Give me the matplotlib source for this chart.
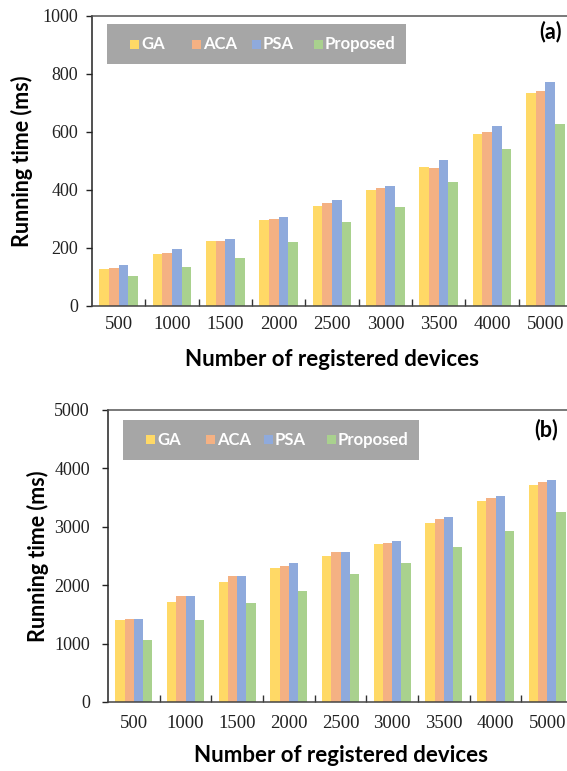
import matplotlib
matplotlib.use("Agg")
import matplotlib.pyplot as plt
from matplotlib.patches import Rectangle
import numpy as np

# ---- data ----
categories = ["500", "1000", "1500", "2000", "2500", "3000", "3500", "4000", "5000"]
series_names = ["GA", "ACA", "PSA", "Proposed"]
series_colors = ["#FFD966", "#F4B183", "#8FAADC", "#A9D18E"]

# (a) running time in ms
ga_a = [126, 180, 225, 296, 346, 400, 480, 594, 733]
aca_a = [132, 182, 225, 300, 356, 406, 476, 600, 742]
psa_a = [140, 197, 231, 307, 367, 414, 505, 619, 771]
prop_a = [104, 133, 167, 219, 289, 342, 427, 540, 629]

# (b) running time in ms
ga_b = [1400, 1710, 2060, 2290, 2500, 2700, 3060, 3450, 3715]
aca_b = [1420, 1810, 2150, 2330, 2570, 2720, 3130, 3485, 3765]
psa_b = [1420, 1810, 2150, 2385, 2570, 2755, 3170, 3520, 3800]
prop_b = [1065, 1405, 1690, 1905, 2200, 2385, 2655, 2935, 3255]

yticks_a = [0, 200, 400, 600, 800, 1000]
yticks_b = [0, 1000, 2000, 3000, 4000, 5000]

W, H = 567, 771
DPI = 100
fig = plt.figure(figsize=(W / DPI, H / DPI), dpi=DPI)

SERIF = "Liberation Serif"
SANS = "Lato"


def px_rect(left, top, right, bottom):
    return [left / W, 1 - bottom / H, (right - left) / W, (bottom - top) / H]


def panel(rect, values, yticks, tag, legend_box, legend_items, ypad, xpad):
    ax = fig.add_axes(rect)
    x = np.arange(len(categories))
    bw = 0.18
    for i, (vals, col) in enumerate(zip(values, series_colors)):
        ax.bar(x + (i - 1.5) * bw, vals, width=bw, color=col, linewidth=0)

    ax.set_xlim(-0.5, len(categories) - 0.5)
    ax.set_ylim(yticks[0], yticks[-1])
    ax.set_yticks(yticks)
    ax.set_yticklabels([str(t) for t in yticks], fontfamily=SERIF, fontsize=13)
    ax.set_xticks(x)
    ax.set_xticklabels(categories, fontfamily=SERIF, fontsize=13.5)
    ax.set_xticks(np.arange(0.5, len(categories) - 0.5, 1.0), minor=True)
    ax.tick_params(axis="x", which="major", length=0, pad=xpad, colors="#222222")
    ax.tick_params(axis="x", which="minor", direction="in", length=5,
                   width=1, color="#333333")
    ax.tick_params(axis="y", which="major", direction="out", length=4,
                   width=1, pad=ypad, colors="#222222")

    ax.spines["right"].set_visible(False)
    ax.spines["top"].set_color("#555555")
    ax.spines["left"].set_color("#222222")
    ax.spines["bottom"].set_color("#444444")
    for s in ax.spines.values():
        s.set_linewidth(1.1)

    ax.set_ylabel("Running time (ms)", fontfamily=SANS, fontweight="bold",
                  fontsize=15.5)
    ax.set_xlabel("Number of registered devices", fontfamily=SANS,
                  fontweight="bold", fontsize=16)
    ax.yaxis.set_label_coords(-70 / (rect[2] * W), 0.5)
    ax.yaxis.label.set_verticalalignment("center")
    ax.xaxis.set_label_coords(0.5, -54 / (rect[3] * H))
    ax.xaxis.label.set_verticalalignment("center")

    ax.text(tag[1], tag[2], tag[0], transform=fig.transFigure, ha="center",
            va="center", fontfamily=SANS, fontweight="bold", fontsize=15.5)

    # legend strip
    l, t, r, b = legend_box
    fig.patches.append(Rectangle((l / W, 1 - b / H), (r - l) / W, (b - t) / H,
                                 transform=fig.transFigure,
                                 facecolor="#A6A6A6", edgecolor="none"))
    yc = (t + b) / 2
    for name, col, mx in zip(series_names, series_colors, legend_items):
        fig.patches.append(Rectangle(((mx - 4.5) / W, 1 - (yc + 4.5) / H),
                                     9 / W, 9 / H, transform=fig.transFigure,
                                     facecolor=col, edgecolor="none"))
        fig.text((mx + 7) / W, 1 - yc / H, name, ha="left", va="center",
                 color="white", fontfamily=SANS, fontweight="bold",
                 fontsize=12)
    return ax


panel(px_rect(92, 16, 572, 306), [ga_a, aca_a, psa_a, prop_a], yticks_a,
      ("(a)", 551 / W, 1 - 32 / H), (107, 24, 406, 64),
      [134, 196, 256, 318], ypad=6, xpad=7)

panel(px_rect(108, 410, 573, 702), [ga_b, aca_b, psa_b, prop_b], yticks_b,
      ("(b)", 546 / W, 1 - 430 / H), (123, 420, 419, 460),
      [150, 210, 268, 331], ypad=9, xpad=9)

fig.savefig("out.png", dpi=DPI)
